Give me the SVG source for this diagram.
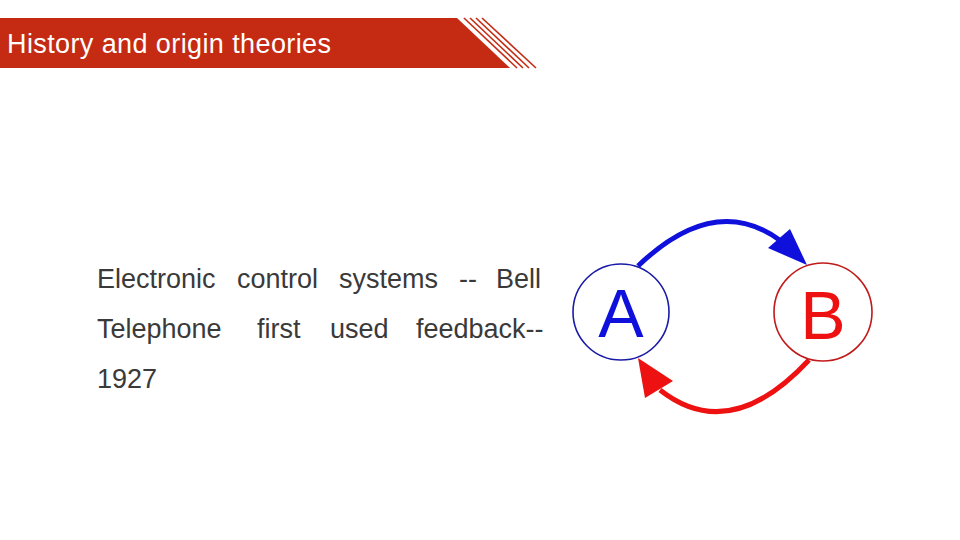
<svg xmlns="http://www.w3.org/2000/svg" width="960" height="540" viewBox="0 0 960 540">
<style>
.body{font-family:"Liberation Sans",Arial,sans-serif;font-size:27px;fill:#3a3a3a}
.stripe{stroke:#c42b12;stroke-width:1.6}
.node{fill:#fff;stroke-width:1.6}
</style>
<defs>
<marker id="ab" viewBox="0 0 10 10" refX="9" refY="5" markerWidth="10" markerHeight="10" markerUnits="userSpaceOnUse" orient="auto"><path d="M0,0 L10,5 L0,10 Z"/></marker>
</defs>
<rect width="960" height="540" fill="#fff"/>
<g id="banner">
<polygon points="0,18 457,18 510,68 0,68" fill="#c42b12"/>
<line class="stripe" x1="464" y1="18" x2="517" y2="68"/>
<line class="stripe" x1="470" y1="18" x2="523" y2="68"/>
<line class="stripe" x1="476" y1="18" x2="529" y2="68"/>
<line class="stripe" x1="482" y1="18" x2="536" y2="68"/>
<text x="7" y="53" font-family="'Liberation Sans',Arial,sans-serif" font-size="27" fill="#fff" textLength="324">History and origin theories</text>
</g>
<g id="body-text">
<text class="body"><tspan x="97" y="288">Electronic</tspan><tspan x="237" y="288">control</tspan><tspan x="339" y="288">systems</tspan><tspan x="459" y="288">--</tspan><tspan x="496" y="288">Bell</tspan><tspan x="97" y="338">Telephone</tspan><tspan x="257" y="338">first</tspan><tspan x="330" y="338">used</tspan><tspan x="416" y="338">feedback--</tspan><tspan x="97" y="388">1927</tspan></text>
</g>
<g id="connectors">
<path d="M638,266 Q715,192 781,241" fill="none" stroke="#1010dd" stroke-width="5"/>
<polygon points="807,265 768,248 790,229" fill="#1010dd"/>
<path d="M809,360 Q730,445 660,390" fill="none" stroke="#ee1111" stroke-width="5"/>
<polygon points="638,358 645,398 673,381" fill="#ee1111"/>
</g>
<g id="nodeA">
<circle class="node" cx="621" cy="312" r="48" stroke="#1a1aa8"/>
<text x="621" y="337" text-anchor="middle" font-family="'Liberation Sans',Arial,sans-serif" font-size="68" fill="#1010dd">A</text>
</g>
<g id="nodeB">
<circle class="node" cx="823" cy="312" r="49" stroke="#c01a1a"/>
<text x="823" y="339" text-anchor="middle" font-family="'Liberation Sans',Arial,sans-serif" font-size="68" fill="#ee1111">B</text>
</g>
</svg>
